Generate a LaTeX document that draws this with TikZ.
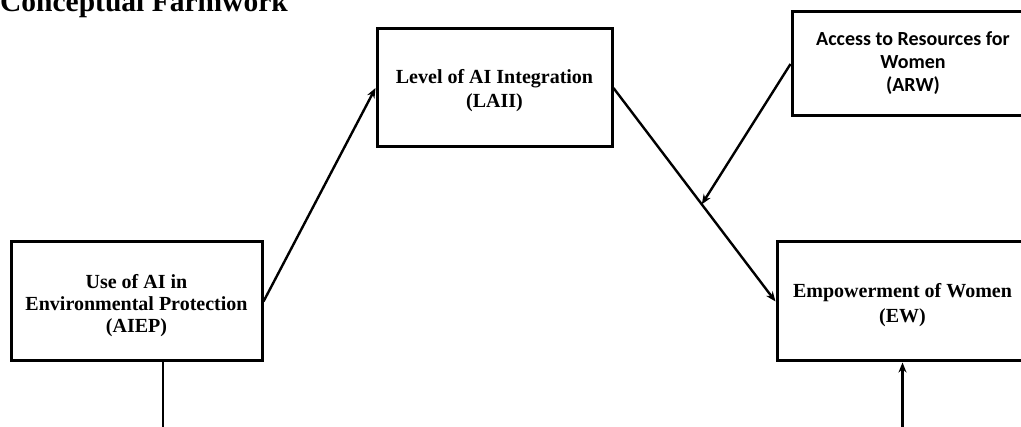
\documentclass[tikz,border=0pt]{standalone}
\usepackage{fontspec}
\setmainfont{Liberation Serif}
\newfontfamily\calibrifont{Carlito}
\usetikzlibrary{arrows.meta,calc}
\tikzset{
  box/.style={draw=black, line width=3pt, fill=white, inner sep=0pt},
  label/.style={align=center, inner sep=0pt, font=\fontsize{20}{24}\selectfont\bfseries},
  link/.style={draw=black, line width=2.4pt, -{Stealth[length=10pt,width=8pt]}},
  plain/.style={draw=black, line width=2.4pt}
}
\begin{document}
\begin{tikzpicture}[x=1pt,y=-1pt]
\path[use as bounding box] (0,0) rectangle (1021,427);
\clip (0,0) rectangle (1021,427);
\node[anchor=base west, inner sep=0pt, font=\fontsize{29.5}{32}\selectfont\bfseries] (title) at (0,12) {Conceptual Farmwork};
\node[box, minimum width=235pt, minimum height=118pt] (LAII) at (494.5,88) {};
\node[label] (LAIItext) at (494.5,91) {Level of AI Integration\\(LAII)};
\node[box, minimum width=242pt, minimum height=104pt] (ARW) at (913,64) {};
\node[label, font=\fontsize{20}{23}\selectfont\calibrifont\bfseries] (ARWtext) at (913,63) {Access to Resources for\\Women\\(ARW)};
\node[box, minimum width=251pt, minimum height=119pt] (AIEP) at (136.5,301.5) {};
\node[label, font=\fontsize{20}{22}\selectfont\bfseries] (AIEPtext) at (136.5,306) {Use of AI in\\Environmental Protection\\(AIEP)};
\node[box, minimum width=251pt, minimum height=119pt] (EW) at (902.5,301.5) {};
\node[label, font=\fontsize{20}{25}\selectfont\bfseries] (EWtext) at (902.5,305) {Empowerment of Women\\(EW)};
\coordinate (mod) at ($(LAII.east)!0.545!(EW.west)$);
\coordinate (aiepout) at (163,432);
\coordinate (ewin) at (902.5,432);
\draw[link] (AIEP.east) -- (LAII.west);
\draw[link] (LAII.east) -- (EW.west);
\draw[link] (ARW.west) -- (mod);
\draw[plain] (AIEP.south -| aiepout) -- (aiepout);
\draw[link] (ewin) -- (EW.south);
\end{tikzpicture}
\end{document}
